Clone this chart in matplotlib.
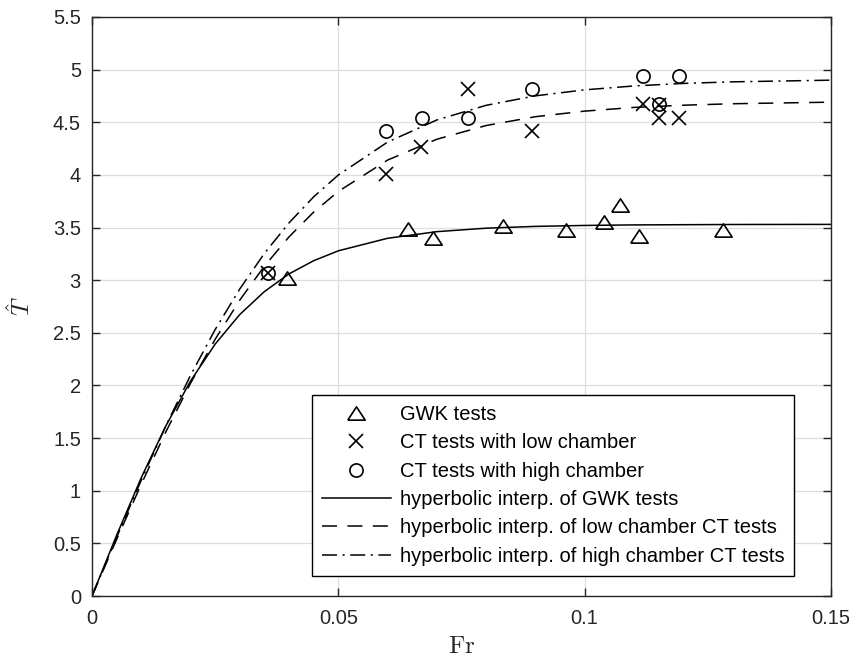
import matplotlib
matplotlib.use("Agg")
import matplotlib.pyplot as plt
from matplotlib import ticker

plt.rcParams['font.family'] = ['Liberation Sans', 'DejaVu Sans']
plt.rcParams['mathtext.fontset'] = 'cm'
plt.rcParams['lines.scale_dashes'] = False

# measured points
gwk_fr = [0.0396, 0.0641, 0.0693, 0.0835, 0.0963, 0.1039, 0.1071, 0.1111, 0.1280]
gwk_t = [3.02, 3.49, 3.40, 3.51, 3.48, 3.555, 3.71, 3.42, 3.48]

low_fr = [0.0358, 0.0597, 0.0667, 0.0764, 0.0894, 0.1118, 0.1150, 0.1150, 0.1191]
low_t = [3.064, 4.01, 4.264, 4.816, 4.413, 4.676, 4.667, 4.54, 4.54]

high_fr = [0.0358, 0.0597, 0.0670, 0.0764, 0.0894, 0.1118, 0.1150, 0.1191]
high_t = [3.064, 4.413, 4.54, 4.54, 4.816, 4.943, 4.676, 4.943]

# interpolation curves
curve_fr = [0, 0.005, 0.01, 0.015, 0.02, 0.025, 0.03, 0.035, 0.04, 0.045, 0.05,
            0.06, 0.07, 0.08, 0.09, 0.10, 0.11, 0.12, 0.13, 0.15]
gwk_curve = [0, 0.577, 1.124, 1.617, 2.042, 2.393, 2.674, 2.892, 3.060, 3.185, 3.279,
             3.398, 3.461, 3.494, 3.511, 3.520, 3.525, 3.527, 3.529, 3.530]
low_curve = [0, 0.538, 1.062, 1.560, 2.021, 2.439, 2.811, 3.134, 3.412, 3.647, 3.843,
             4.141, 4.339, 4.469, 4.553, 4.606, 4.641, 4.662, 4.676, 4.691]
high_curve = [0, 0.557, 1.100, 1.617, 2.096, 2.531, 2.917, 3.255, 3.545, 3.792, 3.999,
              4.312, 4.522, 4.661, 4.751, 4.808, 4.845, 4.869, 4.884, 4.900]

labels = ['GWK tests', 'CT tests with low chamber', 'CT tests with high chamber',
          'hyperbolic interp. of GWK tests',
          'hyperbolic interp. of low chamber CT tests',
          'hyperbolic interp. of high chamber CT tests']

dark = '#262626'
tri = [(-1, -0.765), (1, -0.765), (0, 0.765), (-1, -0.765)]

fig = plt.figure(figsize=(8.5, 6.57), dpi=100)
ax = fig.add_axes([92 / 850, 61 / 657, 739 / 850, 579 / 657])

ax.plot(gwk_fr, gwk_t, linestyle='none', marker=tri, ms=12.5, mfc='none', mec='k', mew=1.2)
ax.plot(low_fr, low_t, linestyle='none', marker='x', ms=9.5, mec='k', mew=1.2)
ax.plot(high_fr, high_t, linestyle='none', marker='o', ms=9.5, mfc='none', mec='k', mew=1.2)
ax.plot(curve_fr, gwk_curve, color='k', lw=1.1)
ax.plot(curve_fr, low_curve, color='k', lw=1.1, dashes=(10.8, 7.5))
ax.plot(curve_fr, high_curve, color='k', lw=1.1, dashes=(10.8, 4.0, 1.5, 4.0))

ax.set_xlim(0, 0.15)
ax.set_ylim(0, 5.5)
ax.set_xticks([0, 0.05, 0.1, 0.15])
ax.set_yticks([i * 0.5 for i in range(12)])
ax.xaxis.set_major_formatter(ticker.FormatStrFormatter('%g'))
ax.yaxis.set_major_formatter(ticker.FormatStrFormatter('%g'))
ax.grid(True, color='#dedede', lw=0.9)
ax.set_axisbelow(True)
for s in ax.spines.values():
    s.set_color(dark)
    s.set_linewidth(1.0)
ax.tick_params(direction='in', length=5.5, width=1.0, color=dark, labelcolor=dark,
               labelsize=14.5, top=True, right=True)
ax.tick_params(axis='x', pad=9)
ax.tick_params(axis='y', pad=8)

ax.set_xlabel(r'$\mathrm{Fr}$', fontsize=18, color=dark)
ax.set_ylabel(r'$\hat{T}$', fontsize=18, color=dark)
ax.xaxis.set_label_coords(0.5, -0.066)
ax.yaxis.set_label_coords(-0.077, 0.5)

leg = ax.legend(labels, loc='lower left', bbox_to_anchor=(0.2977, 0.0345),
                borderaxespad=0, fontsize=14.5, handlelength=3.4, handletextpad=0.45,
                labelspacing=0.47, borderpad=0.5, numpoints=1, fancybox=False,
                framealpha=1, edgecolor='k')
leg.get_frame().set_linewidth(1.0)

fig.savefig('out.png', dpi=100)
